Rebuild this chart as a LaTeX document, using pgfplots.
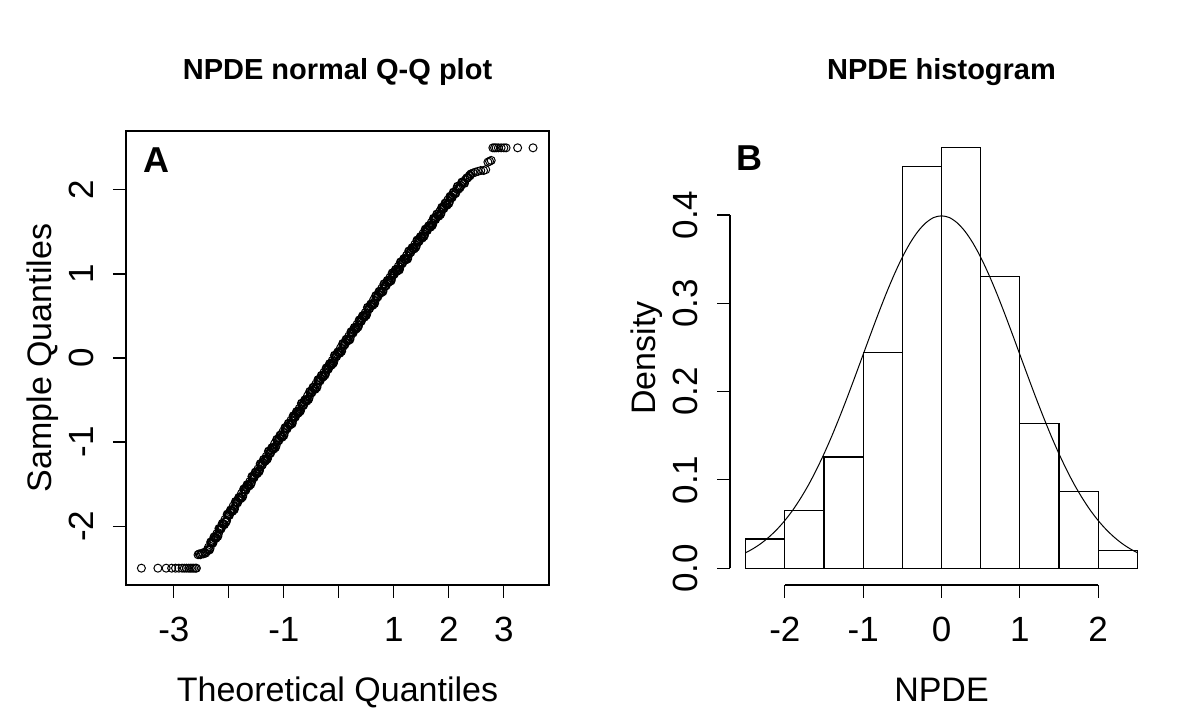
\documentclass[border=0pt]{standalone}
\usepackage{fontspec}
\setmainfont{Liberation Sans}
\usepackage{graphicx}
\usepackage{pgfplots}
\pgfplotsset{compat=1.18}

% 1 px of the reference = 0.5pt
\pgfplotsset{
  rpanel/.style={
    scale only axis, width=211.5pt, height=227pt,
    anchor=south west,
    axis line style={black, line width=0.6pt},
    tick align=outside, major tick length=6.5pt,
    tick style={black, line width=0.6pt},
    xtick pos=left, ytick pos=left,
    ticklabel style={font=\fontsize{17.5}{20}\selectfont},
    xticklabel style={anchor=north, inner sep=0pt},
    yticklabel style={rotate=90, anchor=south, inner sep=0pt},
    xticklabel shift=9.5pt, yticklabel shift=9.5pt,
    label style={font=\fontsize{17}{20}\selectfont, inner sep=0pt},
    xlabel style={at={(axis description cs:0.5,-0.2577)}, anchor=base},
    ylabel style={at={(axis description cs:-0.1768,0.5)}, anchor=base},
    title style={font=\bfseries\fontsize{14.5}{16}\selectfont, inner sep=0pt,
      at={(axis description cs:0.5,1)}, anchor=base, yshift=19.85pt},
    clip=false,
  },
  qqpts/.style={only marks, mark=o, mark size=2pt, black,
    mark options={line width=0.5pt}},
}

\begin{document}
\begin{tikzpicture}[x=1pt,y=1pt]
\path[use as bounding box] (0,0) rectangle (600,361);

% ---------- A: normal Q-Q plot ----------
\begin{axis}[rpanel, at={(63pt,68.5pt)},
    xmin=-3.87, xmax=3.82, ymin=-2.7, ymax=2.7,
    xtick={-3,-2,-1,0,1,2,3}, xticklabels={-3,,-1,,1,2,3},
    ytick={-2,-1,0,1,2}, yticklabels={-2,-1,0,1,2},
    xlabel={Theoretical Quantiles}, ylabel={Sample Quantiles},
    title={NPDE normal Q-Q plot},
]
\addplot[qqpts] coordinates {
(-3.59,-2.50) (-3.29,-2.50) (-3.14,-2.50) (-3.04,-2.50) (-2.97,-2.50)
(-2.91,-2.50) (-2.85,-2.50) (-2.81,-2.50) (-2.77,-2.50) (-2.73,-2.50)
(-2.70,-2.50) (-2.67,-2.50) (-2.64,-2.50) (-2.61,-2.50) (-2.59,-2.50)
(-2.56,-2.34) (-2.54,-2.33) (-2.52,-2.34) (-2.50,-2.33) (-2.48,-2.32)
(-2.46,-2.33) (-2.44,-2.31) (-2.42,-2.32) (-2.40,-2.30) (-2.39,-2.28)
(-2.37,-2.25) (-2.34,-2.26) (-2.31,-2.20) (-2.28,-2.16) (-2.25,-2.15)
(-2.22,-2.09) (-2.19,-2.09) (-2.16,-2.04) (-2.13,-2.00) (-2.10,-1.98)
(-2.07,-1.92) (-2.04,-1.93) (-2.01,-1.87) (-1.98,-1.83) (-1.95,-1.82)
(-1.92,-1.76) (-1.89,-1.77) (-1.86,-1.72) (-1.83,-1.68) (-1.80,-1.67)
(-1.77,-1.61) (-1.74,-1.62) (-1.71,-1.57) (-1.68,-1.53) (-1.65,-1.52)
(-1.62,-1.47) (-1.59,-1.48) (-1.56,-1.43) (-1.53,-1.39) (-1.50,-1.38)
(-1.47,-1.32) (-1.44,-1.33) (-1.41,-1.28) (-1.38,-1.24) (-1.35,-1.23)
(-1.32,-1.17) (-1.29,-1.18) (-1.26,-1.13) (-1.23,-1.09) (-1.20,-1.08)
(-1.17,-1.02) (-1.14,-1.04) (-1.11,-0.99) (-1.08,-0.95) (-1.05,-0.94)
(-1.02,-0.88) (-0.99,-0.89) (-0.96,-0.84) (-0.93,-0.81) (-0.90,-0.80)
(-0.87,-0.74) (-0.84,-0.75) (-0.81,-0.70) (-0.78,-0.66) (-0.75,-0.66)
(-0.72,-0.60) (-0.69,-0.61) (-0.66,-0.56) (-0.63,-0.52) (-0.60,-0.51)
(-0.57,-0.45) (-0.54,-0.47) (-0.51,-0.42) (-0.48,-0.38) (-0.45,-0.37)
(-0.42,-0.31) (-0.39,-0.32) (-0.36,-0.27) (-0.33,-0.24) (-0.30,-0.23)
(-0.27,-0.17) (-0.24,-0.18) (-0.21,-0.13) (-0.18,-0.09) (-0.15,-0.09)
(-0.12,-0.03) (-0.09,-0.04) (-0.06,0.01) (-0.03,0.05) (0.00,0.06)
(0.03,0.12) (0.06,0.11) (0.09,0.15) (0.12,0.19) (0.15,0.20)
(0.18,0.26) (0.21,0.25) (0.24,0.30) (0.27,0.34) (0.30,0.34)
(0.33,0.40) (0.36,0.39) (0.39,0.44) (0.42,0.48) (0.45,0.49)
(0.48,0.54) (0.51,0.53) (0.54,0.58) (0.57,0.62) (0.60,0.63)
(0.63,0.69) (0.66,0.68) (0.69,0.72) (0.72,0.76) (0.75,0.77)
(0.78,0.83) (0.81,0.82) (0.84,0.86) (0.87,0.90) (0.90,0.90)
(0.93,0.96) (0.96,0.95) (0.99,0.99) (1.02,1.03) (1.05,1.03)
(1.08,1.09) (1.11,1.08) (1.14,1.12) (1.17,1.16) (1.20,1.17)
(1.23,1.22) (1.26,1.21) (1.29,1.25) (1.32,1.29) (1.35,1.30)
(1.38,1.35) (1.41,1.34) (1.44,1.38) (1.47,1.42) (1.50,1.43)
(1.53,1.48) (1.56,1.47) (1.59,1.52) (1.62,1.55) (1.65,1.56)
(1.68,1.61) (1.71,1.60) (1.74,1.65) (1.77,1.68) (1.80,1.69)
(1.83,1.74) (1.86,1.73) (1.89,1.78) (1.92,1.81) (1.95,1.82)
(1.98,1.88) (2.01,1.86) (2.04,1.91) (2.07,1.94) (2.10,1.95)
(2.14,2.01) (2.18,2.01) (2.22,2.05) (2.26,2.09) (2.30,2.12)
(2.35,2.15) (2.40,2.19) (2.44,2.20) (2.48,2.21) (2.53,2.22)
(2.58,2.23) (2.63,2.23) (2.67,2.24) (2.71,2.33) (2.74,2.34)
(2.77,2.35) (2.80,2.50) (2.83,2.50) (2.86,2.50) (2.90,2.50)
(2.95,2.50) (3.00,2.50) (3.04,2.50) (3.25,2.50) (3.53,2.50)
};
% in-between quantiles, which make the dense middle band
\addplot[qqpts, mark options={line width=0.8pt}] coordinates {
(-2.355,-2.28) (-2.325,-2.19) (-2.295,-2.20) (-2.265,-2.13) (-2.235,-2.14)
(-2.205,-2.12) (-2.175,-2.03) (-2.145,-2.03) (-2.115,-1.97) (-2.085,-1.98)
(-2.055,-1.95) (-2.025,-1.86) (-1.995,-1.87) (-1.965,-1.81) (-1.935,-1.82)
(-1.905,-1.80) (-1.875,-1.71) (-1.845,-1.72) (-1.815,-1.66) (-1.785,-1.67)
(-1.755,-1.65) (-1.725,-1.56) (-1.695,-1.57) (-1.665,-1.51) (-1.635,-1.52)
(-1.605,-1.50) (-1.575,-1.41) (-1.545,-1.42) (-1.515,-1.36) (-1.485,-1.37)
(-1.455,-1.35) (-1.425,-1.26) (-1.395,-1.27) (-1.365,-1.21) (-1.335,-1.22)
(-1.305,-1.20) (-1.275,-1.11) (-1.245,-1.13) (-1.215,-1.07) (-1.185,-1.08)
(-1.155,-1.06) (-1.125,-0.97) (-1.095,-0.98) (-1.065,-0.92) (-1.035,-0.94)
(-1.005,-0.92) (-0.975,-0.83) (-0.945,-0.84) (-0.915,-0.78) (-0.885,-0.79)
(-0.855,-0.78) (-0.825,-0.69) (-0.795,-0.70) (-0.765,-0.64) (-0.735,-0.65)
(-0.705,-0.63) (-0.675,-0.54) (-0.645,-0.56) (-0.615,-0.50) (-0.585,-0.51)
(-0.555,-0.49) (-0.525,-0.40) (-0.495,-0.41) (-0.465,-0.35) (-0.435,-0.37)
(-0.405,-0.35) (-0.375,-0.26) (-0.345,-0.27) (-0.315,-0.21) (-0.285,-0.22)
(-0.255,-0.20) (-0.225,-0.12) (-0.195,-0.13) (-0.165,-0.07) (-0.135,-0.08)
(-0.105,-0.06) (-0.075,0.03) (-0.045,0.02) (-0.015,0.07) (0.015,0.06)
(0.045,0.08) (0.075,0.17) (0.105,0.16) (0.135,0.22) (0.165,0.21)
(0.195,0.22) (0.225,0.31) (0.255,0.30) (0.285,0.36) (0.315,0.35)
(0.345,0.37) (0.375,0.45) (0.405,0.44) (0.435,0.50) (0.465,0.49)
(0.495,0.51) (0.525,0.60) (0.555,0.59) (0.585,0.64) (0.615,0.63)
(0.645,0.65) (0.675,0.74) (0.705,0.73) (0.735,0.79) (0.765,0.78)
(0.795,0.79) (0.825,0.88) (0.855,0.86) (0.885,0.92) (0.915,0.91)
(0.945,0.92) (0.975,1.01) (1.005,1.00) (1.035,1.05) (1.065,1.04)
(1.095,1.05) (1.125,1.14) (1.155,1.13) (1.185,1.18) (1.215,1.17)
(1.245,1.18) (1.275,1.27) (1.305,1.26) (1.335,1.31) (1.365,1.30)
(1.395,1.32) (1.425,1.40) (1.455,1.39) (1.485,1.44) (1.515,1.43)
(1.545,1.45) (1.575,1.53) (1.605,1.52) (1.635,1.57) (1.665,1.56)
(1.695,1.58) (1.725,1.66) (1.755,1.65) (1.785,1.71) (1.815,1.69)
(1.845,1.71) (1.875,1.79) (1.905,1.78) (1.935,1.84) (1.965,1.82)
(1.995,1.84) (2.025,1.92) (2.055,1.91) (2.085,1.97) (2.12,1.96)
(2.16,2.04) (2.20,2.03) (2.24,2.09) (2.28,2.08) (2.33,2.14)
(2.38,2.17)
};
\node[anchor=base west, inner sep=0pt, font=\bfseries\fontsize{18}{20}\selectfont]
  at (rel axis cs:0.0402,0.9075) {A};
\end{axis}

% ---------- B: histogram ----------
\begin{axis}[rpanel, at={(365pt,68.5pt)},
    axis x line*=bottom, axis y line*=left,
    axis line style={draw=none},
    xmin=-2.7, xmax=2.7, ymin=-0.019, ymax=0.495,
    xtick={-2,-1,0,1,2}, xticklabels={-2,-1,0,1,2},
    ytick={0,0.1,0.2,0.3,0.4}, yticklabels={0.0,0.1,0.2,0.3,0.4},
    xlabel={NPDE}, ylabel={Density},
    title={NPDE histogram},
]
\addplot[ybar interval, draw=black, fill=none, line width=0.6pt] coordinates {
(-2.5,0.033) (-2.0,0.065) (-1.5,0.126) (-1.0,0.244) (-0.5,0.455)
(0.0,0.476) (0.5,0.330) (1.0,0.164) (1.5,0.087) (2.0,0.020) (2.5,0.020)
};
\addplot[black, line width=0.5pt, smooth] coordinates {
(-2.5,0.0175) (-2.4,0.0224) (-2.3,0.0283) (-2.2,0.0355) (-2.1,0.0440)
(-2.0,0.0540) (-1.9,0.0656) (-1.8,0.0790) (-1.7,0.0940) (-1.6,0.1109)
(-1.5,0.1295) (-1.4,0.1497) (-1.3,0.1714) (-1.2,0.1942) (-1.1,0.2179)
(-1.0,0.2420) (-0.9,0.2661) (-0.8,0.2897) (-0.7,0.3123) (-0.6,0.3332)
(-0.5,0.3521) (-0.4,0.3683) (-0.3,0.3814) (-0.2,0.3910) (-0.1,0.3970)
(0.0,0.3989) (0.1,0.3970) (0.2,0.3910) (0.3,0.3814) (0.4,0.3683)
(0.5,0.3521) (0.6,0.3332) (0.7,0.3123) (0.8,0.2897) (0.9,0.2661)
(1.0,0.2420) (1.1,0.2179) (1.2,0.1942) (1.3,0.1714) (1.4,0.1497)
(1.5,0.1295) (1.6,0.1109) (1.7,0.0940) (1.8,0.0790) (1.9,0.0656)
(2.0,0.0540) (2.1,0.0440) (2.2,0.0355) (2.3,0.0283) (2.4,0.0224)
(2.5,0.0175)
};
% R-style detached axis lines
\addplot[black, line width=0.6pt] coordinates {(-2,-0.019) (2,-0.019)};
\addplot[black, line width=0.6pt] coordinates {(-2.7,0) (-2.7,0.4)};
\node[anchor=base west, inner sep=0pt, font=\bfseries\fontsize{18}{20}\selectfont]
  at (rel axis cs:0.0143,0.912) {B};
\end{axis}
\end{tikzpicture}
\end{document}
